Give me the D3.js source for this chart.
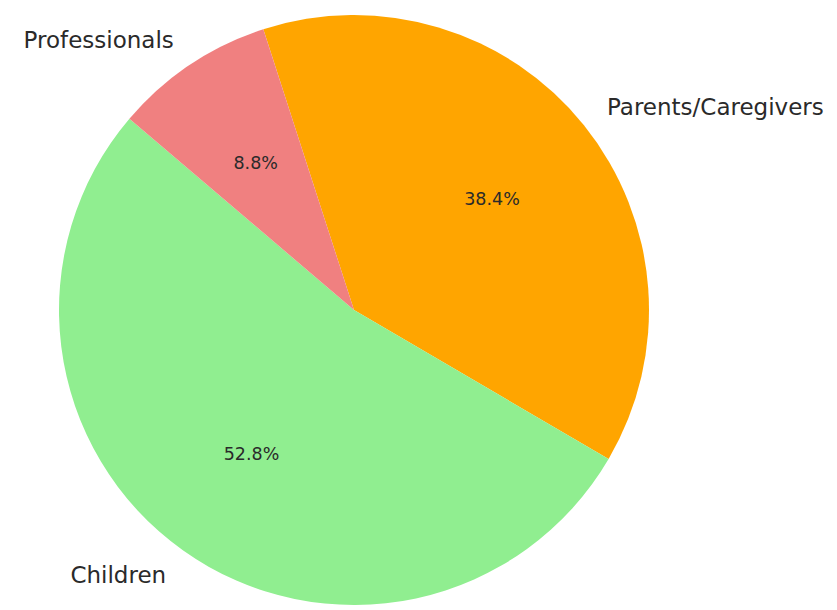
<!DOCTYPE html>
<html>
<head>
<meta charset="utf-8">
<script src="https://cdn.jsdelivr.net/npm/d3@7"></script>
<style>
  html, body { margin: 0; padding: 0; background: #ffffff; }
  svg { display: block; }
  text { font-family: "DejaVu Sans", Roboto, sans-serif; }
</style>
</head>
<body>
<div id="chart"></div>
<script>
// Data
const categories = ["Parents/Caregivers", "Children", "Professionals"];
const values = [38.4, 52.8, 8.8];
const colors = ["#FFA500", "#90EE90", "#F08080"];

const width = 837, height = 610;
const cx = 354, cy = 310, radius = 295;
const startDeg = -17.9;

const svg = d3.select("#chart").append("svg")
  .attr("width", width).attr("height", height);

const g = svg.append("g").attr("transform", `translate(${cx},${cy})`);

const data = categories.map((c, i) => ({ label: c, value: values[i], color: colors[i] }));

const pie = d3.pie()
  .value(d => d.value)
  .sort(null)
  .startAngle(startDeg * Math.PI / 180)
  .endAngle(startDeg * Math.PI / 180 + 2 * Math.PI);

const arcs = pie(data);
const arc = d3.arc().innerRadius(0).outerRadius(radius);
const pctArc = d3.arc().innerRadius(radius * 0.6).outerRadius(radius * 0.6);
const lblArc = d3.arc().innerRadius(radius * 1.1).outerRadius(radius * 1.1);

g.selectAll("path.slice").data(arcs).join("path")
  .attr("class", "slice")
  .attr("d", arc)
  .attr("fill", d => d.data.color);

g.selectAll("text.pct").data(arcs).join("text")
  .attr("class", "pct")
  .attr("transform", d => `translate(${pctArc.centroid(d)})`)
  .attr("text-anchor", "middle")
  .attr("dy", "0.35em")
  .attr("font-size", 17.5)
  .attr("fill", "#2a2a2a")
  .text(d => d.data.value.toFixed(1) + "%");

g.selectAll("text.lbl").data(arcs).join("text")
  .attr("class", "lbl")
  .attr("transform", d => `translate(${lblArc.centroid(d)})`)
  .attr("text-anchor", d => {
    const mid = (d.startAngle + d.endAngle) / 2;
    return Math.sin(mid) >= 0 ? "start" : "end";
  })
  .attr("dy", "0.35em")
  .attr("font-size", 23)
  .attr("fill", "#2a2a2a")
  .text(d => d.data.label);
</script>
</body>
</html>
